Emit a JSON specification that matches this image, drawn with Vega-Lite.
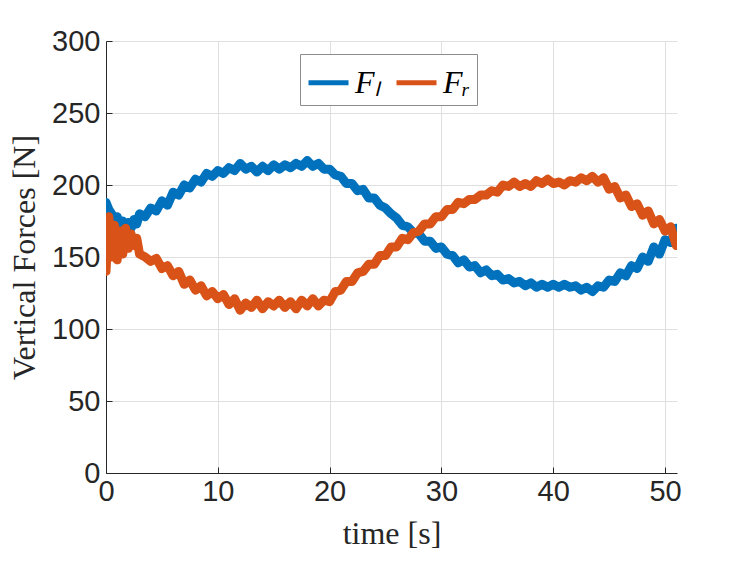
{
  "$schema": "https://vega.github.io/schema/vega-lite/v6.json",
  "width": 571,
  "height": 432,
  "autosize": {"type": "none"},
  "padding": {"left": 106, "top": 41, "right": 70, "bottom": 88},
  "background": "white",
  "config": {
    "view": {"stroke": null},
    "axis": {
      "domainColor": "#262626",
      "domainWidth": 1,
      "tickColor": "#262626",
      "tickSize": -6,
      "gridColor": "#dfdfdf",
      "gridWidth": 1,
      "labelFont": "Liberation Sans",
      "labelFontSize": 29,
      "labelColor": "#262626",
      "titleFont": "Liberation Serif",
      "titleFontSize": 32,
      "titleFontWeight": "normal",
      "titleColor": "#262626"
    }
  },
  "data": {
    "values": [
      {"t": 0, "L": 188, "R": 140},
      {"t": 0.25, "L": 183, "R": 178},
      {"t": 0.5, "L": 180, "R": 150},
      {"t": 0.75, "L": 176, "R": 172},
      {"t": 1, "L": 178, "R": 148},
      {"t": 1.25, "L": 172, "R": 168},
      {"t": 1.5, "L": 175, "R": 152},
      {"t": 1.75, "L": 171, "R": 170},
      {"t": 2, "L": 174, "R": 156},
      {"t": 2.25, "L": 170, "R": 166},
      {"t": 2.5, "L": 176, "R": 158},
      {"t": 2.75, "L": 173, "R": 163},
      {"t": 3, "L": 180, "R": 152},
      {"t": 3.5, "L": 178, "R": 150},
      {"t": 4, "L": 184, "R": 147},
      {"t": 4.5, "L": 182, "R": 149},
      {"t": 5, "L": 189, "R": 142},
      {"t": 5.5, "L": 186, "R": 144},
      {"t": 6, "L": 195, "R": 137},
      {"t": 6.5, "L": 193, "R": 140},
      {"t": 7, "L": 200, "R": 131},
      {"t": 7.5, "L": 198, "R": 134},
      {"t": 8, "L": 204, "R": 127},
      {"t": 8.5, "L": 202, "R": 130},
      {"t": 9, "L": 208, "R": 123},
      {"t": 9.5, "L": 206, "R": 126},
      {"t": 10, "L": 210, "R": 121},
      {"t": 10.5, "L": 208, "R": 124},
      {"t": 11, "L": 212, "R": 117},
      {"t": 11.5, "L": 210, "R": 121},
      {"t": 12, "L": 215, "R": 113},
      {"t": 12.5, "L": 211, "R": 118},
      {"t": 13, "L": 213, "R": 115},
      {"t": 13.5, "L": 209, "R": 120},
      {"t": 14, "L": 213, "R": 114},
      {"t": 14.5, "L": 210, "R": 119},
      {"t": 15, "L": 214, "R": 116},
      {"t": 15.5, "L": 211, "R": 120},
      {"t": 16, "L": 214, "R": 115},
      {"t": 16.5, "L": 212, "R": 119},
      {"t": 17, "L": 215, "R": 114},
      {"t": 17.5, "L": 213, "R": 120},
      {"t": 18, "L": 217, "R": 116},
      {"t": 18.5, "L": 213, "R": 121},
      {"t": 19, "L": 215, "R": 116},
      {"t": 19.5, "L": 211, "R": 120},
      {"t": 20, "L": 211, "R": 119},
      {"t": 20.5, "L": 207, "R": 126},
      {"t": 21, "L": 206, "R": 127},
      {"t": 21.5, "L": 201, "R": 133},
      {"t": 22, "L": 201, "R": 133},
      {"t": 22.5, "L": 196, "R": 139},
      {"t": 23, "L": 197, "R": 140},
      {"t": 23.5, "L": 191, "R": 145},
      {"t": 24, "L": 191, "R": 145},
      {"t": 24.5, "L": 186, "R": 151},
      {"t": 25, "L": 184, "R": 151},
      {"t": 25.5, "L": 180, "R": 157},
      {"t": 26, "L": 177, "R": 157},
      {"t": 26.5, "L": 172, "R": 163},
      {"t": 27, "L": 171, "R": 162},
      {"t": 27.5, "L": 167, "R": 167},
      {"t": 28, "L": 166, "R": 168},
      {"t": 28.5, "L": 161, "R": 173},
      {"t": 29, "L": 161, "R": 173},
      {"t": 29.5, "L": 156, "R": 178},
      {"t": 30, "L": 157, "R": 178},
      {"t": 30.5, "L": 152, "R": 183},
      {"t": 31, "L": 151, "R": 183},
      {"t": 31.5, "L": 146, "R": 188},
      {"t": 32, "L": 148, "R": 187},
      {"t": 32.5, "L": 143, "R": 190},
      {"t": 33, "L": 144, "R": 190},
      {"t": 33.5, "L": 139, "R": 193},
      {"t": 34, "L": 141, "R": 193},
      {"t": 34.5, "L": 137, "R": 196},
      {"t": 35, "L": 138, "R": 195},
      {"t": 35.5, "L": 134, "R": 200},
      {"t": 36, "L": 135, "R": 199},
      {"t": 36.5, "L": 132, "R": 202},
      {"t": 37, "L": 133, "R": 199},
      {"t": 37.5, "L": 130, "R": 201},
      {"t": 38, "L": 132, "R": 199},
      {"t": 38.5, "L": 129, "R": 203},
      {"t": 39, "L": 131, "R": 201},
      {"t": 39.5, "L": 129, "R": 204},
      {"t": 40, "L": 131, "R": 201},
      {"t": 40.5, "L": 129, "R": 202},
      {"t": 41, "L": 131, "R": 200},
      {"t": 41.5, "L": 129, "R": 203},
      {"t": 42, "L": 130, "R": 202},
      {"t": 42.5, "L": 127, "R": 205},
      {"t": 43, "L": 129, "R": 203},
      {"t": 43.5, "L": 126, "R": 206},
      {"t": 44, "L": 130, "R": 202},
      {"t": 44.5, "L": 129, "R": 205},
      {"t": 45, "L": 134, "R": 197},
      {"t": 45.5, "L": 133, "R": 199},
      {"t": 46, "L": 139, "R": 191},
      {"t": 46.5, "L": 137, "R": 193},
      {"t": 47, "L": 144, "R": 185},
      {"t": 47.5, "L": 142, "R": 187},
      {"t": 48, "L": 150, "R": 179},
      {"t": 48.5, "L": 147, "R": 182},
      {"t": 49, "L": 157, "R": 173},
      {"t": 49.5, "L": 152, "R": 176},
      {"t": 50, "L": 162, "R": 168},
      {"t": 50.5, "L": 160, "R": 171},
      {"t": 51, "L": 170, "R": 158}
    ]
  },
  "transform": [{"fold": ["L", "R"], "as": ["series", "force"]}],
  "mark": {"type": "line", "strokeWidth": 9, "strokeCap": "round", "strokeJoin": "round", "clip": true},
  "encoding": {
    "x": {
      "field": "t",
      "type": "quantitative",
      "title": "time [s]",
      "scale": {"domain": [0, 51.07], "nice": false, "zero": false},
      "axis": {"values": [0, 10, 20, 30, 40, 50], "labelPadding": 10, "titlePadding": 12, "labelFlush": false}
    },
    "y": {
      "field": "force",
      "type": "quantitative",
      "title": "Vertical Forces [N]",
      "scale": {"domain": [0, 300], "nice": false},
      "axis": {"values": [0, 50, 100, 150, 200, 250, 300], "labelPadding": 12, "titlePadding": 10, "labelFlush": false}
    },
    "color": {
      "field": "series",
      "type": "nominal",
      "scale": {"domain": ["L", "R"], "range": ["#0072BD", "#D95319"]},
      "legend": {
        "title": null,
        "orient": "none",
        "legendX": 194,
        "legendY": 13,
        "direction": "horizontal",
        "symbolType": "stroke",
        "symbolStrokeWidth": 5,
        "symbolSize": 1600,
        "labelExpr": "datum.label == 'L' ? 'F\u2097' : 'F\u1d63'",
        "labelFont": "Liberation Serif",
        "labelFontStyle": "italic",
        "labelFontSize": 32,
        "labelColor": "#000000",
        "labelLimit": 100,
        "columnPadding": 6,
        "padding": 6,
        "strokeColor": "#8c8c8c",
        "fillColor": "white"
      }
    }
  }
}
